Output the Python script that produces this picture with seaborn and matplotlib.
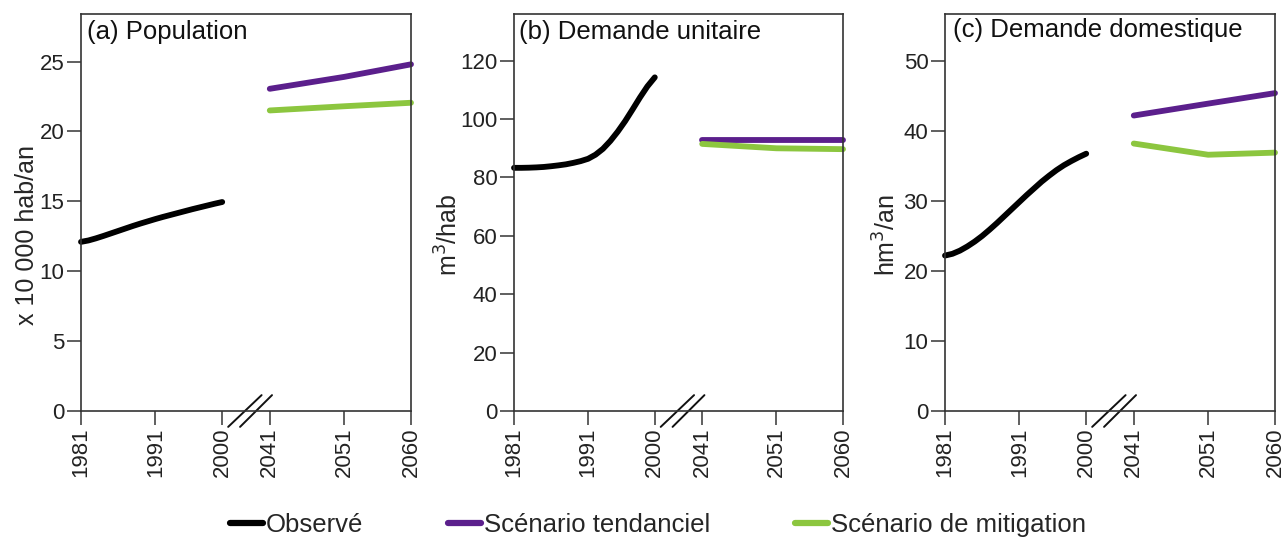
import numpy as np
import pandas as pd
import matplotlib
matplotlib.use("Agg")
import matplotlib.pyplot as plt
from matplotlib.lines import Line2D
import seaborn as sns

# ---------------- data ----------------
years_obs = list(range(1981, 2001))
years_fut = [2041, 2051, 2060]

pop_obs = [12.1, 12.2, 12.35, 12.52, 12.7, 12.88, 13.06, 13.24, 13.41, 13.57,
           13.73, 13.88, 14.02, 14.16, 14.3, 14.44, 14.57, 14.7, 14.83, 14.95]
pop_tend = [23.05, 23.9, 24.8]
pop_mit = [21.5, 21.8, 22.05]

unit_obs = [83.3, 83.3, 83.35, 83.45, 83.6, 83.85, 84.15, 84.5, 85.0, 85.6,
            86.4, 87.8, 89.8, 92.5, 95.7, 99.3, 103.3, 107.4, 111.2, 114.3]
unit_tend = [92.8, 92.8, 92.8]
unit_mit = [91.5, 90.0, 89.7]

dom_obs = [22.2, 22.45, 22.9, 23.5, 24.2, 25.0, 25.9, 26.85, 27.85, 28.85,
           29.85, 30.85, 31.8, 32.75, 33.6, 34.4, 35.1, 35.7, 36.25, 36.75]
dom_tend = [42.2, 43.9, 45.4]
dom_mit = [38.2, 36.6, 36.9]

series_names = ["Observé", "Scénario tendanciel", "Scénario de mitigation"]
colors = ["#000000", "#5b1f8c", "#8cc63f"]
panel_titles = ["(a) Population", "(b) Demande unitaire", "(c) Demande domestique"]
ylabels = ["x 10 000 hab/an", "m$^3$/hab", "hm$^3$/an"]
yticks = [[0, 5, 10, 15, 20, 25], [0, 20, 40, 60, 80, 100, 120], [0, 10, 20, 30, 40, 50]]
ylims = [28.4, 136, 56.7]
xtick_years = [1981, 1991, 2000, 2041, 2051, 2060]

panels = [(pop_obs, pop_tend, pop_mit),
          (unit_obs, unit_tend, unit_mit),
          (dom_obs, dom_tend, dom_mit)]

# broken axis: future years shifted to sit right after the observed period
GAP = 6.4
def xpos(y):
    y = np.asarray(y, dtype=float)
    return np.where(y > 2020, y - 2041 + 2000 + GAP, y)

# ---------------- style ----------------
sns.set_style("ticks")
plt.rcParams["font.family"] = ["Liberation Sans", "DejaVu Sans"]
plt.rcParams["axes.edgecolor"] = "#333333"
plt.rcParams["xtick.color"] = "#444444"
plt.rcParams["ytick.color"] = "#444444"
plt.rcParams["xtick.labelcolor"] = "#222222"
plt.rcParams["ytick.labelcolor"] = "#222222"

fig = plt.figure(figsize=(12.82, 5.4), dpi=100)

W, H = 1282, 540
lefts = [81, 514, 945]
widths = [330, 329, 330]
top_px, bot_px = 14, 411
label_x = [-0.164, -0.198, -0.176]
title_x = [0.018, 0.015, 0.024]
title_y = [0.955, 0.955, 0.96]

palette = dict(zip(series_names, colors))

for i, (obs, tend, mit) in enumerate(panels):
    ax = fig.add_axes([lefts[i] / W, 1 - bot_px / H, widths[i] / W, (bot_px - top_px) / H])
    df = pd.concat([
        pd.DataFrame({"year": years_obs, "value": obs, "serie": series_names[0]}),
        pd.DataFrame({"year": years_fut, "value": tend, "serie": series_names[1]}),
        pd.DataFrame({"year": years_fut, "value": mit, "serie": series_names[2]}),
    ], ignore_index=True)
    df["pos"] = xpos(df["year"])
    sns.lineplot(data=df, x="pos", y="value", hue="serie", palette=palette,
                 hue_order=series_names, estimator=None, sort=True,
                 linewidth=4.2, legend=False, ax=ax)
    for ln in ax.get_lines():
        ln.set_solid_capstyle("round")
        ln.set_solid_joinstyle("round")
        ln.set_clip_on(False)

    ax.set_xlim(1981, 2019 + GAP)
    ax.set_ylim(0, ylims[i])
    ax.set_xticks(xpos(xtick_years))
    ax.set_xticklabels([str(y) for y in xtick_years], rotation=90)
    ax.set_yticks(yticks[i])
    ax.tick_params(axis="both", labelsize=16, length=10, width=1.2, pad=2)
    for s in ax.spines.values():
        s.set_linewidth(1.2)

    ax.set_xlabel("")
    ax.set_ylabel(ylabels[i], fontsize=18)
    ax.yaxis.set_label_coords(label_x[i], 0.443)
    ax.yaxis.label.set_verticalalignment("center")

    ax.text(title_x[i], title_y[i], panel_titles[i], transform=ax.transAxes,
            fontsize=18.5, ha="left", va="center", color="#111111")

    # break marks "//"
    trans = ax.get_xaxis_transform()
    for x0, x1 in [(2000.8, 2005.3), (2002.4, 2006.7)]:
        ax.plot([x0, x1], [-0.040, 0.040], color="#111111", lw=1.4,
                transform=trans, clip_on=False)

handles = [Line2D([0], [0], color=c, lw=4.5, solid_capstyle="round") for c in colors]
fig.legend(handles, series_names, loc="center", bbox_to_anchor=(0.513, 0.028),
           ncol=3, frameon=False, fontsize=18.5, handlelength=1.3,
           handletextpad=0.1, columnspacing=3.3)

fig.savefig("out.png", dpi=100)
